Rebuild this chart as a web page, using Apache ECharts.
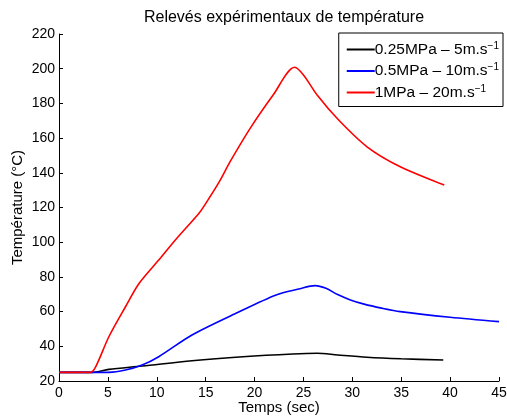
<!DOCTYPE html>
<html>
<head>
<meta charset="utf-8">
<script src="https://cdn.jsdelivr.net/npm/echarts@6/dist/echarts.min.js"></script>
<style>
  html, body { margin: 0; padding: 0; background: #fff; }
  #chart { width: 507px; height: 418px; }
</style>
</head>
<body>
<div id="chart"></div>
<script>
// [temps (sec), température (°C)]
const black = [
  [0, 25], [3.4, 25], [5.1, 26.7], [8.5, 28.6], [13.6, 31.7], [18.8, 34],
  [23.9, 35.6], [26.4, 36], [28.5, 35], [31.5, 33.7], [35, 32.8], [39.3, 32.1]
];
const blue = [
  [0, 25], [5.1, 25], [6.8, 26.3], [8.5, 29.2], [10.2, 34], [13.6, 46.5],
  [18.1, 59], [22.2, 69.6], [24.5, 73], [26.2, 75], [27.3, 73.4], [28.5, 69.8],
  [29.8, 66.7], [31.2, 64.3], [33, 62], [34.9, 60], [40, 56.7], [45, 54.2]
];
const red = [
  [0, 25], [3.2, 25], [3.75, 28.2], [5.1, 45.5], [6.8, 62.8], [8.2, 76.3],
  [10.2, 89.7], [11.9, 101.3], [14.3, 116.6], [14.9, 121.4], [16.4, 134.9],
  [17.5, 146.4], [19.55, 165.6], [21.9, 184.8], [24.1, 200.8], [25, 196.4],
  [26.4, 184.8], [28.6, 170.4], [31.5, 155], [34.9, 143.5], [39.4, 133]
];
const seriesNames = [
  "{t|0.25MPa – 5m.s}{s|−1}",
  "{t|0.5MPa – 10m.s}{s|−1}",
  "{t|1MPa – 20m.s}{s|−1}"
];

const font = "'Liberation Sans', Arial, sans-serif";
const chart = echarts.init(document.getElementById("chart"));

function line(name, data, color) {
  return {
    name: name,
    type: "line",
    data: data,
    smooth: 0.3,
    showSymbol: false,
    symbol: "none",
    lineStyle: { color: color, width: 1.6 },
    itemStyle: { color: color },
    animation: false
  };
}

chart.setOption({
  backgroundColor: "#fff",
  title: {
    text: "Relevés expérimentaux de température",
    left: 279,
    top: 5,
    textAlign: "center",
    textStyle: { fontFamily: font, fontSize: 16, fontWeight: "normal", color: "#000" }
  },
  legend: {
    right: 4,
    top: 33,
    orient: "vertical",
    itemGap: 5,
    itemWidth: 28,
    itemHeight: 2,
    icon: "rect",
    backgroundColor: "#fff",
    borderColor: "#000",
    borderWidth: 1,
    borderRadius: 0,
    padding: [8, 4, 6, 8],
    textStyle: {
      padding: [0, 0, 0, -5],
      rich: {
        t: { fontFamily: font, fontSize: 15.5, color: "#000", lineHeight: 17 },
        s: { fontFamily: font, fontSize: 10, color: "#000", verticalAlign: "top", lineHeight: 17 }
      }
    },
    data: seriesNames
  },
  grid: { left: 59, right: 8, top: 34, bottom: 37, outerBoundsMode: "none", containLabel: false },
  xAxis: {
    type: "value",
    min: 0,
    max: 45,
    interval: 5,
    name: "Temps (sec)",
    nameLocation: "middle",
    nameGap: 19,
    nameMoveOverlap: false,
    nameTextStyle: { fontFamily: font, fontSize: 15, color: "#000" },
    axisLine: { lineStyle: { color: "#000", width: 1 } },
    axisTick: { inside: true, length: 4, lineStyle: { color: "#000" } },
    axisLabel: { fontFamily: font, fontSize: 14, color: "#000", margin: 5 },
    splitLine: { show: false }
  },
  yAxis: {
    type: "value",
    min: 20,
    max: 220,
    interval: 20,
    name: "Température (°C)",
    nameLocation: "middle",
    nameGap: 34,
    nameMoveOverlap: false,
    nameTextStyle: { fontFamily: font, fontSize: 15, color: "#000" },
    axisLine: { show: true, lineStyle: { color: "#000", width: 1 } },
    axisTick: { show: true, inside: true, length: 4, lineStyle: { color: "#000" } },
    axisLabel: { fontFamily: font, fontSize: 14, color: "#000", margin: 4 },
    splitLine: { show: false }
  },
  series: [
    line(seriesNames[0], black, "#000000"),
    line(seriesNames[1], blue, "#0000ff"),
    line(seriesNames[2], red, "#ff0000")
  ]
});
</script>
</body>
</html>
